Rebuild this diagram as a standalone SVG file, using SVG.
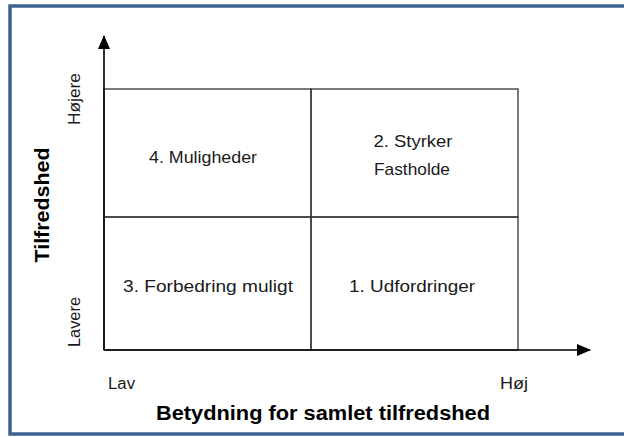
<svg xmlns="http://www.w3.org/2000/svg" width="624" height="437" viewBox="0 0 624 437">
<style>
.lbl{font-family:"Liberation Sans",Arial,sans-serif;font-size:17px;fill:#1a1a1a}
.tick{font-family:"Liberation Sans",Arial,sans-serif;font-size:16px;fill:#1a1a1a}
.ttl{font-family:"Liberation Sans",Arial,sans-serif;font-size:20px;font-weight:bold;fill:#000}
.grid{fill:none;stroke:#333;stroke-width:1.3}
.axis{fill:none;stroke:#000;stroke-width:1.6}
</style>
<defs>
<marker id="arr" markerWidth="14" markerHeight="12" refX="13" refY="6" orient="auto" markerUnits="userSpaceOnUse" viewBox="0 0 14 12">
<path d="M0,0 L14,6 L0,12 z" fill="#000"/>
</marker>
</defs>
<rect x="0" y="0" width="624" height="437" fill="#fff"/>
<rect x="10" y="6" width="630" height="428" fill="#fff" stroke="#3c6190" stroke-width="3.5"/>
<g id="quadrants">
<g id="q4"><rect class="grid" x="104" y="89" width="207" height="128"/><text class="lbl" x="203" y="163" text-anchor="middle" textLength="108" lengthAdjust="spacingAndGlyphs">4. Muligheder</text></g>
<g id="q2"><rect class="grid" x="311" y="89" width="207" height="128"/><text class="lbl" x="413" y="147" text-anchor="middle" textLength="79" lengthAdjust="spacingAndGlyphs">2. Styrker</text><text class="lbl" x="412" y="175" text-anchor="middle" textLength="76" lengthAdjust="spacingAndGlyphs">Fastholde</text></g>
<g id="q3"><rect class="grid" x="104" y="217" width="207" height="133"/><text class="lbl" x="208" y="292" text-anchor="middle" textLength="170" lengthAdjust="spacingAndGlyphs">3. Forbedring muligt</text></g>
<g id="q1"><rect class="grid" x="311" y="217" width="207" height="133"/><text class="lbl" x="412" y="292" text-anchor="middle" textLength="126" lengthAdjust="spacingAndGlyphs">1. Udfordringer</text></g>
</g>
<g id="connectors">
<line class="axis" x1="104" y1="350" x2="104" y2="36" marker-end="url(#arr)"/>
<line class="axis" x1="104" y1="350" x2="590" y2="350" marker-end="url(#arr)"/>
</g>
<g id="labels">
<text class="tick" x="108" y="389" textLength="27" lengthAdjust="spacingAndGlyphs">Lav</text>
<text class="tick" x="500" y="389" textLength="28" lengthAdjust="spacingAndGlyphs">Høj</text>
<text class="tick" transform="translate(80,99) rotate(-90)" text-anchor="middle" textLength="52" lengthAdjust="spacingAndGlyphs">Højere</text>
<text class="tick" transform="translate(80,322) rotate(-90)" text-anchor="middle" textLength="50" lengthAdjust="spacingAndGlyphs">Lavere</text>
<text class="ttl" x="323" y="420" text-anchor="middle" textLength="334" lengthAdjust="spacingAndGlyphs">Betydning for samlet tilfredshed</text>
<text class="ttl" transform="translate(49,205) rotate(-90)" text-anchor="middle" textLength="115" lengthAdjust="spacingAndGlyphs">Tilfredshed</text>
</g>
</svg>
